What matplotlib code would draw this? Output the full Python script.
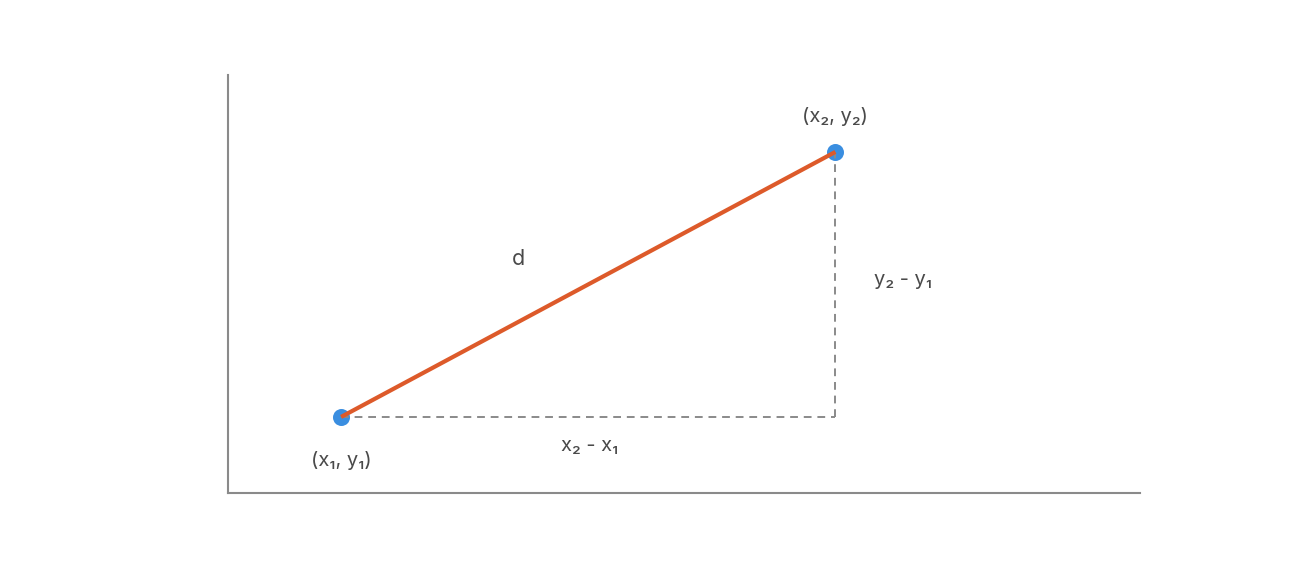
import matplotlib.pyplot as plt

# the two points (data units, axes span 0..10)
xs = [1.24, 6.66]
ys = [1.82, 8.16]

pt_labels = ['(x\u2081, y\u2081)', '(x\u2082, y\u2082)']
dx_label = 'x\u2082 - x\u2081'
dy_label = 'y\u2082 - y\u2081'
d_label = 'd'

txt_col = '#4a4a4a'
fam = ['Inter', 'DejaVu Sans']

fig = plt.figure(figsize=(12.92, 5.70), dpi=100)
ax = fig.add_axes([228 / 1292, 77 / 570, 912 / 1292, 418 / 570])
ax.set_xlim(0, 10)
ax.set_ylim(0, 10)

# dashed legs
ax.plot([xs[0], xs[1]], [ys[0], ys[0]], ls=(0, (4, 3)), color='#8a8a8a', lw=1.4, zorder=3)
ax.plot([xs[1], xs[1]], [ys[0], ys[1]], ls=(0, (4, 3)), color='#8a8a8a', lw=1.4, zorder=3)

# points
ax.scatter(xs, ys, s=150, color='#3a8ee0', zorder=2, linewidths=0)

# distance line
ax.plot(xs, ys, color='#dd5a2a', lw=3, zorder=4, solid_capstyle='butt')

fs = 14.5
ax.text(xs[0], ys[0] - 1.04, pt_labels[0], ha='center', va='center', fontsize=fs, color=txt_col, family=fam)
ax.text(xs[1], ys[1] + 0.84, pt_labels[1], ha='center', va='center', fontsize=fs, color=txt_col, family=fam)
ax.text((xs[0] + xs[1]) / 2 + 0.02, ys[0] - 0.7, dx_label, ha='center', va='center', fontsize=fs, color=txt_col, family=fam)
ax.text(xs[1] + 0.74, (ys[0] + ys[1]) / 2 + 0.1, dy_label, ha='center', va='center', fontsize=fs, color=txt_col, family=fam)
ax.text(3.19, 5.6, d_label, ha='center', va='center', fontsize=fs + 1, color=txt_col, family=fam)

for side in ['top', 'right']:
    ax.spines[side].set_visible(False)
for side in ['left', 'bottom']:
    ax.spines[side].set_color('#8a8a8a')
    ax.spines[side].set_linewidth(1.5)
ax.set_xticks([])
ax.set_yticks([])

fig.savefig('out.png', dpi=100)
